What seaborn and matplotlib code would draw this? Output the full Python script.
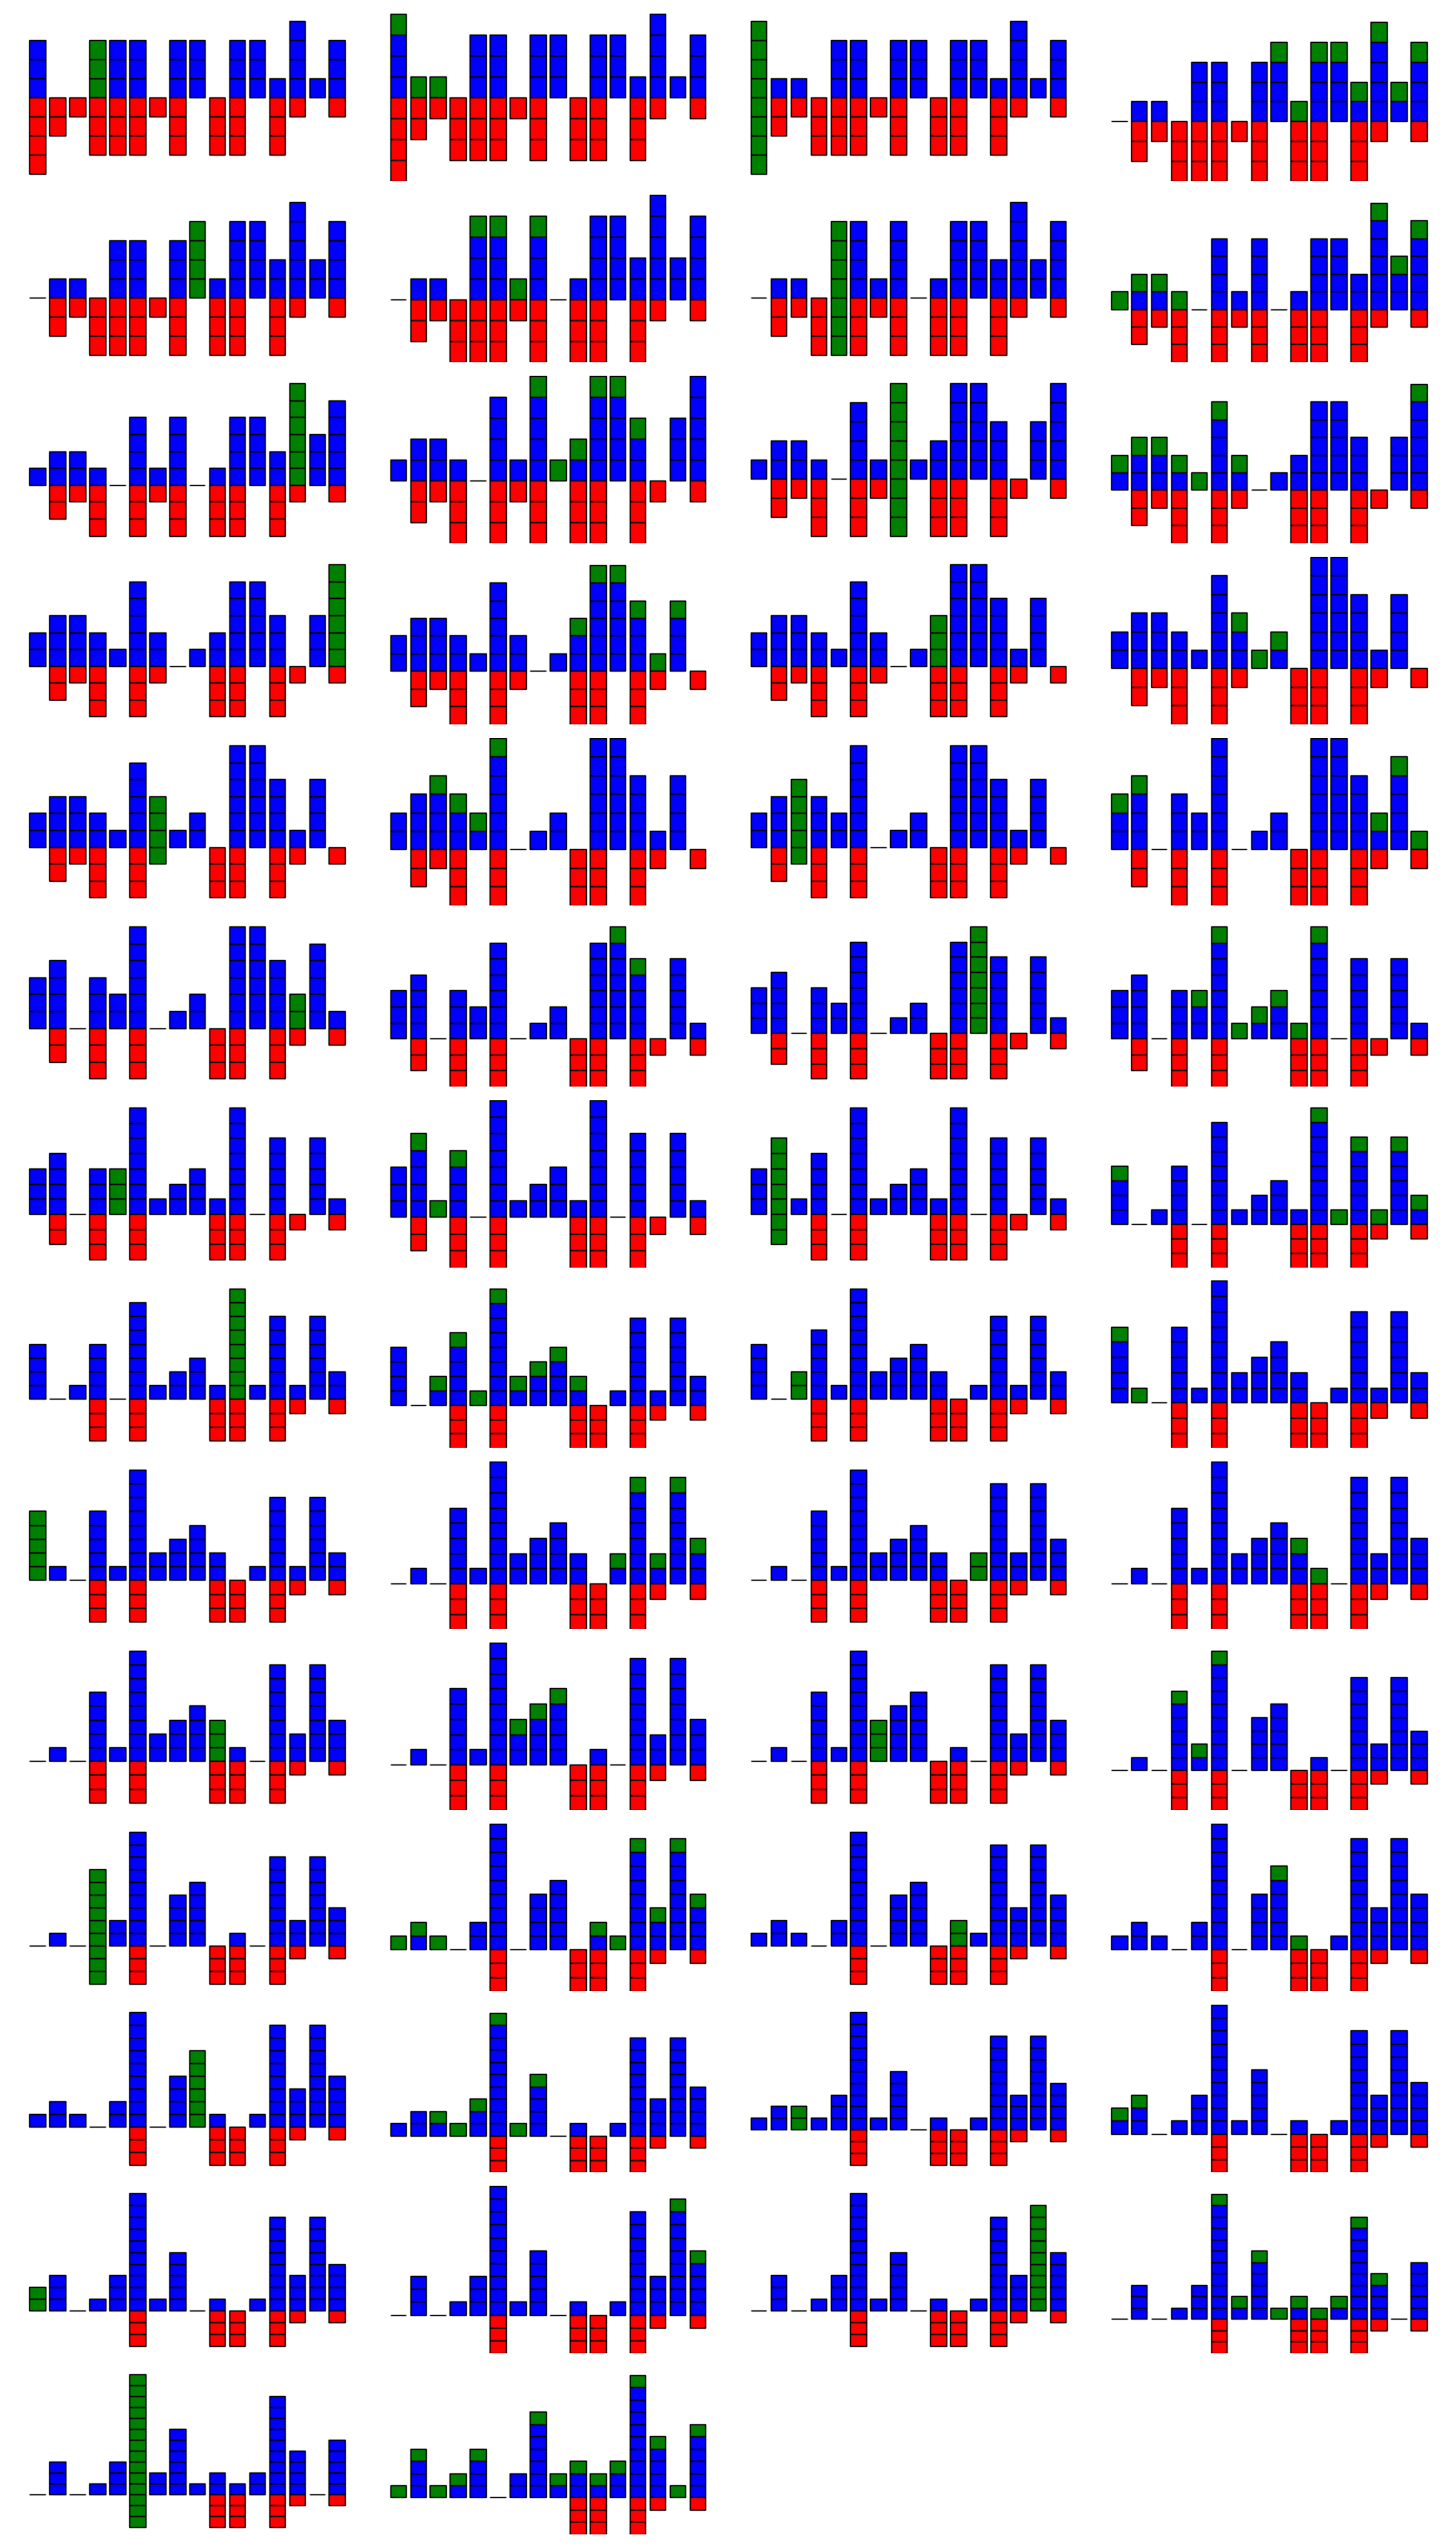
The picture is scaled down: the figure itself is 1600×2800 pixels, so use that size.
import matplotlib
matplotlib.use("Agg")
import matplotlib.pyplot as plt
import seaborn as sns

# 54 frames of a 16-pit sowing game.
# ups: stones stacked above the line, downs: stones below the line
ups = [
    [3, 0, 0, 3, 3, 3, 0, 3, 3, 0, 3, 3, 1, 4, 1, 3],
    [4, 1, 1, 0, 3, 3, 0, 3, 3, 0, 3, 3, 1, 4, 1, 3],
    [4, 1, 1, 0, 3, 3, 0, 3, 3, 0, 3, 3, 1, 4, 1, 3],
    [0, 1, 1, 0, 3, 3, 0, 3, 4, 1, 4, 4, 2, 5, 2, 4],
    [0, 1, 1, 0, 3, 3, 0, 3, 4, 1, 4, 4, 2, 5, 2, 4],
    [0, 1, 1, 0, 4, 4, 1, 4, 0, 1, 4, 4, 2, 5, 2, 4],
    [0, 1, 1, 0, 4, 4, 1, 4, 0, 1, 4, 4, 2, 5, 2, 4],
    [1, 2, 2, 1, 0, 4, 1, 4, 0, 1, 4, 4, 2, 6, 3, 5],
    [1, 2, 2, 1, 0, 4, 1, 4, 0, 1, 4, 4, 2, 6, 3, 5],
    [1, 2, 2, 1, 0, 4, 1, 5, 1, 2, 5, 5, 3, 0, 3, 5],
    [1, 2, 2, 1, 0, 4, 1, 5, 1, 2, 5, 5, 3, 0, 3, 5],
    [2, 3, 3, 2, 1, 5, 2, 0, 1, 2, 5, 5, 3, 0, 3, 6],
    [2, 3, 3, 2, 1, 5, 2, 0, 1, 2, 5, 5, 3, 0, 3, 6],
    [2, 3, 3, 2, 1, 5, 2, 0, 1, 3, 6, 6, 4, 1, 4, 0],
    [2, 3, 3, 2, 1, 5, 2, 0, 1, 3, 6, 6, 4, 1, 4, 0],
    [2, 3, 3, 2, 1, 5, 3, 1, 2, 0, 6, 6, 4, 1, 4, 0],
    [2, 3, 3, 2, 1, 5, 3, 1, 2, 0, 6, 6, 4, 1, 4, 0],
    [2, 3, 4, 3, 2, 6, 0, 1, 2, 0, 6, 6, 4, 1, 4, 0],
    [2, 3, 4, 3, 2, 6, 0, 1, 2, 0, 6, 6, 4, 1, 4, 0],
    [3, 4, 0, 3, 2, 6, 0, 1, 2, 0, 6, 6, 4, 2, 5, 1],
    [3, 4, 0, 3, 2, 6, 0, 1, 2, 0, 6, 6, 4, 2, 5, 1],
    [3, 4, 0, 3, 2, 6, 0, 1, 2, 0, 6, 7, 5, 0, 5, 1],
    [3, 4, 0, 3, 2, 6, 0, 1, 2, 0, 6, 7, 5, 0, 5, 1],
    [3, 4, 0, 3, 3, 7, 1, 2, 3, 1, 7, 0, 5, 0, 5, 1],
    [3, 4, 0, 3, 3, 7, 1, 2, 3, 1, 7, 0, 5, 0, 5, 1],
    [3, 5, 1, 4, 0, 7, 1, 2, 3, 1, 7, 0, 5, 0, 5, 1],
    [3, 5, 1, 4, 0, 7, 1, 2, 3, 1, 7, 0, 5, 0, 5, 1],
    [4, 0, 1, 4, 0, 7, 1, 2, 3, 1, 8, 1, 6, 1, 6, 2],
    [4, 0, 1, 4, 0, 7, 1, 2, 3, 1, 8, 1, 6, 1, 6, 2],
    [4, 0, 2, 5, 1, 8, 2, 3, 4, 2, 0, 1, 6, 1, 6, 2],
    [4, 0, 2, 5, 1, 8, 2, 3, 4, 2, 0, 1, 6, 1, 6, 2],
    [5, 1, 0, 5, 1, 8, 2, 3, 4, 2, 0, 1, 6, 1, 6, 2],
    [5, 1, 0, 5, 1, 8, 2, 3, 4, 2, 0, 1, 6, 1, 6, 2],
    [0, 1, 0, 5, 1, 8, 2, 3, 4, 2, 0, 2, 7, 2, 7, 3],
    [0, 1, 0, 5, 1, 8, 2, 3, 4, 2, 0, 2, 7, 2, 7, 3],
    [0, 1, 0, 5, 1, 8, 2, 3, 4, 3, 1, 0, 7, 2, 7, 3],
    [0, 1, 0, 5, 1, 8, 2, 3, 4, 3, 1, 0, 7, 2, 7, 3],
    [0, 1, 0, 5, 1, 8, 3, 4, 5, 0, 1, 0, 7, 2, 7, 3],
    [0, 1, 0, 5, 1, 8, 3, 4, 5, 0, 1, 0, 7, 2, 7, 3],
    [0, 1, 0, 6, 2, 9, 0, 4, 5, 0, 1, 0, 7, 2, 7, 3],
    [0, 1, 0, 6, 2, 9, 0, 4, 5, 0, 1, 0, 7, 2, 7, 3],
    [1, 2, 1, 0, 2, 9, 0, 4, 5, 0, 2, 1, 8, 3, 8, 4],
    [1, 2, 1, 0, 2, 9, 0, 4, 5, 0, 2, 1, 8, 3, 8, 4],
    [1, 2, 1, 0, 2, 9, 0, 4, 6, 1, 0, 1, 8, 3, 8, 4],
    [1, 2, 1, 0, 2, 9, 0, 4, 6, 1, 0, 1, 8, 3, 8, 4],
    [1, 2, 2, 1, 3, 10, 1, 5, 0, 1, 0, 1, 8, 3, 8, 4],
    [1, 2, 2, 1, 3, 10, 1, 5, 0, 1, 0, 1, 8, 3, 8, 4],
    [2, 3, 0, 1, 3, 10, 1, 5, 0, 1, 0, 1, 8, 3, 8, 4],
    [2, 3, 0, 1, 3, 10, 1, 5, 0, 1, 0, 1, 8, 3, 8, 4],
    [0, 3, 0, 1, 3, 10, 1, 5, 0, 1, 0, 1, 8, 3, 9, 5],
    [0, 3, 0, 1, 3, 10, 1, 5, 0, 1, 0, 1, 8, 3, 9, 5],
    [0, 3, 0, 1, 3, 11, 2, 6, 1, 2, 1, 2, 9, 4, 0, 5],
    [0, 3, 0, 1, 3, 11, 2, 6, 1, 2, 1, 2, 9, 4, 0, 5],
    [1, 4, 1, 2, 4, 0, 2, 7, 2, 3, 2, 3, 10, 5, 1, 6],
]

downs = [
    [4, 2, 1, 3, 3, 3, 1, 3, 0, 3, 3, 0, 3, 1, 0, 1],
    [4, 2, 1, 3, 3, 3, 1, 3, 0, 3, 3, 0, 3, 1, 0, 1],
    [4, 2, 1, 3, 3, 3, 1, 3, 0, 3, 3, 0, 3, 1, 0, 1],
    [0, 2, 1, 3, 3, 3, 1, 3, 0, 3, 3, 0, 3, 1, 0, 1],
    [0, 2, 1, 3, 3, 3, 1, 3, 0, 3, 3, 0, 3, 1, 0, 1],
    [0, 2, 1, 3, 3, 3, 1, 3, 0, 3, 3, 0, 3, 1, 0, 1],
    [0, 2, 1, 3, 3, 3, 1, 3, 0, 3, 3, 0, 3, 1, 0, 1],
    [0, 2, 1, 3, 0, 3, 1, 3, 0, 3, 3, 0, 3, 1, 0, 1],
    [0, 2, 1, 3, 0, 3, 1, 3, 0, 3, 3, 0, 3, 1, 0, 1],
    [0, 2, 1, 3, 0, 3, 1, 3, 0, 3, 3, 0, 3, 1, 0, 1],
    [0, 2, 1, 3, 0, 3, 1, 3, 0, 3, 3, 0, 3, 1, 0, 1],
    [0, 2, 1, 3, 0, 3, 1, 0, 0, 3, 3, 0, 3, 1, 0, 1],
    [0, 2, 1, 3, 0, 3, 1, 0, 0, 3, 3, 0, 3, 1, 0, 1],
    [0, 2, 1, 3, 0, 3, 1, 0, 0, 3, 3, 0, 3, 1, 0, 1],
    [0, 2, 1, 3, 0, 3, 1, 0, 0, 3, 3, 0, 3, 1, 0, 1],
    [0, 2, 1, 3, 0, 3, 1, 0, 0, 3, 3, 0, 3, 1, 0, 1],
    [0, 2, 1, 3, 0, 3, 1, 0, 0, 3, 3, 0, 3, 1, 0, 1],
    [0, 2, 1, 3, 0, 3, 0, 0, 0, 3, 3, 0, 3, 1, 0, 1],
    [0, 2, 1, 3, 0, 3, 0, 0, 0, 3, 3, 0, 3, 1, 0, 1],
    [0, 2, 0, 3, 0, 3, 0, 0, 0, 3, 3, 0, 3, 1, 0, 1],
    [0, 2, 0, 3, 0, 3, 0, 0, 0, 3, 3, 0, 3, 1, 0, 1],
    [0, 2, 0, 3, 0, 3, 0, 0, 0, 3, 3, 0, 3, 1, 0, 1],
    [0, 2, 0, 3, 0, 3, 0, 0, 0, 3, 3, 0, 3, 1, 0, 1],
    [0, 2, 0, 3, 0, 3, 0, 0, 0, 3, 3, 0, 3, 1, 0, 1],
    [0, 2, 0, 3, 0, 3, 0, 0, 0, 3, 3, 0, 3, 1, 0, 1],
    [0, 2, 0, 3, 0, 3, 0, 0, 0, 3, 3, 0, 3, 1, 0, 1],
    [0, 2, 0, 3, 0, 3, 0, 0, 0, 3, 3, 0, 3, 1, 0, 1],
    [0, 0, 0, 3, 0, 3, 0, 0, 0, 3, 3, 0, 3, 1, 0, 1],
    [0, 0, 0, 3, 0, 3, 0, 0, 0, 3, 3, 0, 3, 1, 0, 1],
    [0, 0, 0, 3, 0, 3, 0, 0, 0, 3, 3, 0, 3, 1, 0, 1],
    [0, 0, 0, 3, 0, 3, 0, 0, 0, 3, 3, 0, 3, 1, 0, 1],
    [0, 0, 0, 3, 0, 3, 0, 0, 0, 3, 3, 0, 3, 1, 0, 1],
    [0, 0, 0, 3, 0, 3, 0, 0, 0, 3, 3, 0, 3, 1, 0, 1],
    [0, 0, 0, 3, 0, 3, 0, 0, 0, 3, 3, 0, 3, 1, 0, 1],
    [0, 0, 0, 3, 0, 3, 0, 0, 0, 3, 3, 0, 3, 1, 0, 1],
    [0, 0, 0, 3, 0, 3, 0, 0, 0, 3, 3, 0, 3, 1, 0, 1],
    [0, 0, 0, 3, 0, 3, 0, 0, 0, 3, 3, 0, 3, 1, 0, 1],
    [0, 0, 0, 3, 0, 3, 0, 0, 0, 3, 3, 0, 3, 1, 0, 1],
    [0, 0, 0, 3, 0, 3, 0, 0, 0, 3, 3, 0, 3, 1, 0, 1],
    [0, 0, 0, 3, 0, 3, 0, 0, 0, 3, 3, 0, 3, 1, 0, 1],
    [0, 0, 0, 3, 0, 3, 0, 0, 0, 3, 3, 0, 3, 1, 0, 1],
    [0, 0, 0, 0, 0, 3, 0, 0, 0, 3, 3, 0, 3, 1, 0, 1],
    [0, 0, 0, 0, 0, 3, 0, 0, 0, 3, 3, 0, 3, 1, 0, 1],
    [0, 0, 0, 0, 0, 3, 0, 0, 0, 3, 3, 0, 3, 1, 0, 1],
    [0, 0, 0, 0, 0, 3, 0, 0, 0, 3, 3, 0, 3, 1, 0, 1],
    [0, 0, 0, 0, 0, 3, 0, 0, 0, 3, 3, 0, 3, 1, 0, 1],
    [0, 0, 0, 0, 0, 3, 0, 0, 0, 3, 3, 0, 3, 1, 0, 1],
    [0, 0, 0, 0, 0, 3, 0, 0, 0, 3, 3, 0, 3, 1, 0, 1],
    [0, 0, 0, 0, 0, 3, 0, 0, 0, 3, 3, 0, 3, 1, 0, 1],
    [0, 0, 0, 0, 0, 3, 0, 0, 0, 3, 3, 0, 3, 1, 0, 1],
    [0, 0, 0, 0, 0, 3, 0, 0, 0, 3, 3, 0, 3, 1, 0, 1],
    [0, 0, 0, 0, 0, 3, 0, 0, 0, 3, 3, 0, 3, 1, 0, 1],
    [0, 0, 0, 0, 0, 3, 0, 0, 0, 3, 3, 0, 3, 1, 0, 1],
    [0, 0, 0, 0, 0, 0, 0, 0, 0, 3, 3, 0, 3, 1, 0, 1],
]

# odd frames (1, 3, ...): pit that gets picked up (green), and whether
# the stones below the line go with it
pick_pit = [3, 0, 8, 4, 13, 7, 15, 9, 6, 2, 13, 11, 4, 1,
            10, 2, 0, 11, 9, 6, 3, 10, 8, 2, 0, 14, 5]
pick_whole = [0, 1, 0, 1, 0, 1, 0, 0, 1, 1, 0, 0, 0, 1,
              0, 0, 0, 0, 0, 0, 1, 0, 0, 0, 0, 0, 1]

# even frames: pits that just received one stone (green on top)
sown = [
    [0, 1, 2],
    [8, 9, 10, 11, 12, 13, 14, 15],
    [4, 5, 6, 7],
    [0, 1, 2, 3, 13, 14, 15],
    [7, 8, 9, 10, 11, 12],
    [0, 1, 2, 3, 4, 5, 6, 15],
    [9, 10, 11, 12, 13, 14],
    [6, 7, 8],
    [2, 3, 4, 5],
    [0, 1, 13, 14, 15],
    [11, 12],
    [4, 5, 6, 7, 8, 9, 10],
    [1, 2, 3],
    [0, 10, 11, 12, 13, 14, 15],
    [2, 3, 4, 5, 6, 7, 8, 9],
    [0, 1],
    [11, 12, 13, 14, 15],
    [9, 10],
    [6, 7, 8],
    [3, 4, 5],
    [0, 1, 2, 10, 11, 12, 13, 14, 15],
    [8, 9],
    [2, 3, 4, 5, 6, 7],
    [0, 1],
    [14, 15],
    [5, 6, 7, 8, 9, 10, 11, 12, 13],
    [0, 1, 2, 3, 4, 7, 8, 9, 10, 11, 12, 13, 14, 15],
]

sns.set_style("white")

n_pits = 16
fig, axes = plt.subplots(14, 4, figsize=(16, 28))
plt.subplots_adjust(left=0.0094, right=0.9906, top=0.9946, bottom=0.0054,
                    wspace=0.039, hspace=0.0815)


def draw_frame(ax, up, down, green_top, green_low, pick):
    xs, bottoms, heights, colors = [], [], [], []
    for c in range(n_pits):
        for j in range(up[c]):
            xs.append(c)
            bottoms.append(j)
            heights.append(1)
            colors.append('green' if j >= up[c] - green_top[c] else 'blue')
        for j in range(down[c]):
            xs.append(c)
            bottoms.append(-(j + 1))
            heights.append(1)
            colors.append('green' if j < green_low[c] else 'red')
        if up[c] == 0 and down[c] == 0:
            # empty pit -> flat bar on the line
            xs.append(c)
            bottoms.append(0)
            heights.append(0)
            colors.append('blue')
    ax.bar(xs, heights, bottom=bottoms, width=0.8, color=colors,
           edgecolor='black', linewidth=1)

    lo, hi = -max(down), max(up)
    span = hi - lo
    if pick:
        ax.set_ylim(lo - 0.05 * span, hi + 0.05 * span)
    else:
        blue_top = max(u - g for u, g in zip(up, green_top))
        top = hi if blue_top == hi else hi + 0.05 * span
        ax.set_ylim(lo, top)
    ax.axis('off')


flat = axes.flat
for i in range(len(ups)):
    ax = flat[i]
    up, down = ups[i], downs[i]
    green_top = [0] * n_pits
    green_low = [0] * n_pits
    if i % 2 == 0:
        c = pick_pit[i // 2]
        green_top[c] = up[c]
        if pick_whole[i // 2]:
            green_low[c] = down[c]
    else:
        for c in sown[i // 2]:
            green_top[c] = 1
    draw_frame(ax, up, down, green_top, green_low, i % 2 == 0)

for ax in list(flat)[len(ups):]:
    ax.axis('off')

fig.savefig('out.png', dpi=100)
